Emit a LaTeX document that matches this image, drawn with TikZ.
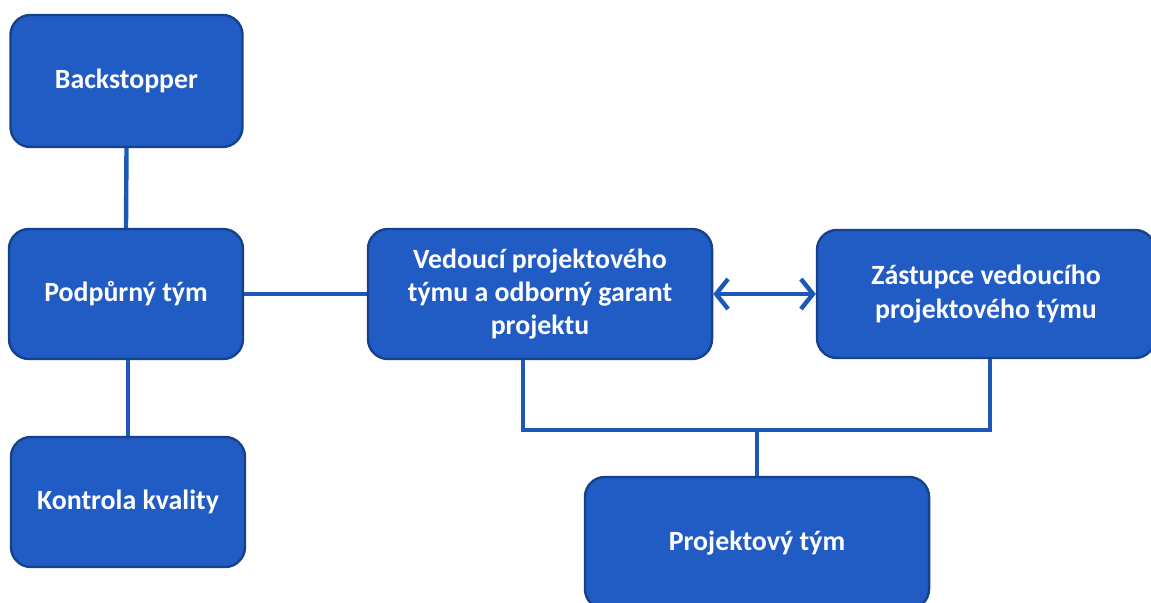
\documentclass[tikz,border=0pt]{standalone}
\usepackage{fontspec}
\setmainfont{Carlito}
\usetikzlibrary{arrows.meta}
\definecolor{boxblue}{RGB}{33,92,196}
\definecolor{boxedge}{RGB}{22,66,140}
\definecolor{lineblue}{RGB}{28,88,186}
\begin{document}
\begin{tikzpicture}[x=0.025cm,y=-0.025cm,
		teambox/.style={draw=boxedge, line width=0.6mm, fill=boxblue, rounded corners=0.5cm,
			text=white, font=\fontsize{19.8}{23.6}\selectfont\bfseries, align=center, inner sep=0pt},
		link/.style={draw=lineblue, line width=1.1mm},
		twoway/.style={link, {Straight Barb[length=3mm,width=7.5mm]}-{Straight Barb[length=3mm,width=7.5mm]}}]
			%%%%% START %%%%%
			\useasboundingbox[fill=white] (0, 0) rectangle (1151, 603);
			\clip (0, 0) rectangle (1151, 603);
			
			\node[teambox, minimum width=5.8cm, minimum height=3.3cm] (back) at (126.5, 81) {Backstopper};
			\node[teambox, minimum width=5.85cm, minimum height=3.25cm] (podp) at (126, 294) {Podpůrný tým};
			\node[teambox, minimum width=5.85cm, minimum height=3.25cm] (kontr) at (128, 502) {Kontrola kvality};
			
			\node[teambox, minimum width=8.6cm, minimum height=3.25cm] (ved) at (540, 294) {Vedoucí projektového\\týmu a odborný garant\\projektu};
			\node[teambox, minimum width=8.45cm, minimum height=3.2cm] (zast) at (986, 294) {Zástupce vedoucího\\projektového týmu};
			\node[teambox, minimum width=8.6cm, minimum height=3.3cm] (proj) at (757, 543) {Projektový tým};
			
			\coordinate (jl) at (523, 430);
			\coordinate (jr) at (990, 430);
			\coordinate (jm) at (757, 430);
			
			\draw[link] (back.south) -- (podp.north);
			\draw[link] (podp.south -| kontr.north) -- (kontr.north);
			\draw[link] (podp.east) -- (podp.east -| ved.west);
			\draw[twoway] (ved.east) -- (ved.east -| zast.west);
			\draw[link] (ved.south -| jl) -- (jl) -- (jr) -- (zast.south -| jr);
			\draw[link] (jm) -- (proj.north);
			
			%%%%% END %%%%%
\end{tikzpicture}
\end{document}
